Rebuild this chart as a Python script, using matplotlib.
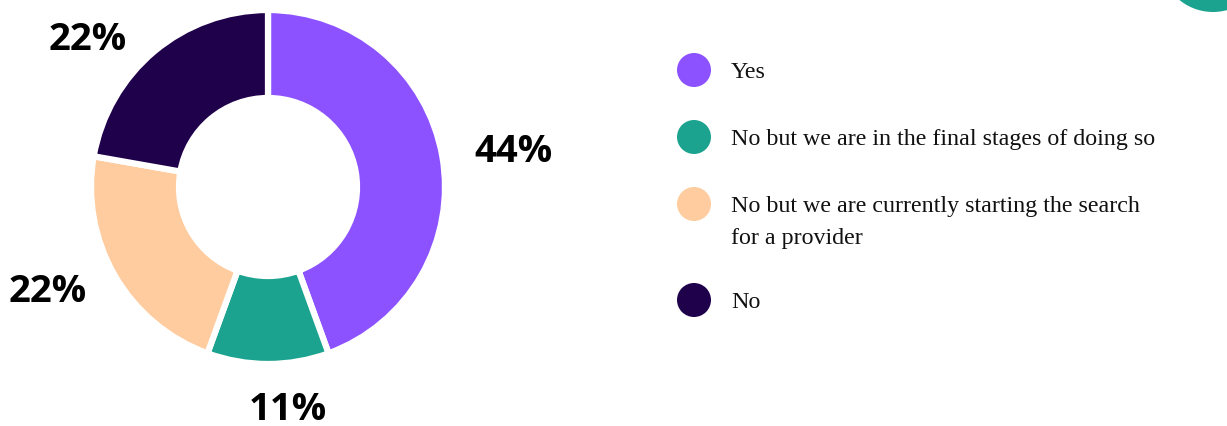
import matplotlib
matplotlib.use("Agg")
import matplotlib.pyplot as plt
from matplotlib.patches import Circle

# Data
categories = ["Yes",
              "No but we are in the final stages of doing so",
              "No but we are currently starting the search\nfor a provider",
              "No"]
counts = [4, 1, 2, 2]
colors = ["#8C52FF", "#1BA38F", "#FFCC9F", "#1F004A"]

W, H = 1227, 427
fig = plt.figure(figsize=(W / 100, H / 100), dpi=100)
ax = fig.add_axes([0, 0, 1, 1])

def py(y):
    return H - y

cx, cy = 268, py(188)
R = 177
ax.pie(counts, colors=colors, startangle=90, counterclock=False,
       radius=R, center=(cx, cy), frame=True,
       wedgeprops=dict(width=88, edgecolor="white", linewidth=4.5))
ax.set_xlim(0, W)
ax.set_ylim(0, H)
ax.set_aspect("equal")
ax.axis("off")

total = sum(counts)
pct_labels = [f"{round(c / total * 100)}%" for c in counts]
label_pos = [(513, 152), (288, 410), (48, 292), (88, 40)]
for lab, (x, y) in zip(pct_labels, label_pos):
    ax.text(x, py(y), lab, ha="center", va="center", fontsize=27.5,
            fontweight="bold", family="Open Sans", color="black")

# Legend
leg_y = [71, 138, 205, 301]
for cat, col, y in zip(categories, colors, leg_y):
    ax.add_patch(Circle((694, py(y)), 17, color=col, lw=0))
    for i, line in enumerate(cat.split("\n")):
        ax.text(731, py(y + 2 + i * 32), line, ha="left", va="center",
                fontsize=17.3, family="Liberation Serif", color="#111111")

# decorative circle at top right
ax.add_patch(Circle((1213, py(-40)), 53, color="#1BA38F", lw=0))

fig.savefig("out.png", dpi=100, facecolor="white")
